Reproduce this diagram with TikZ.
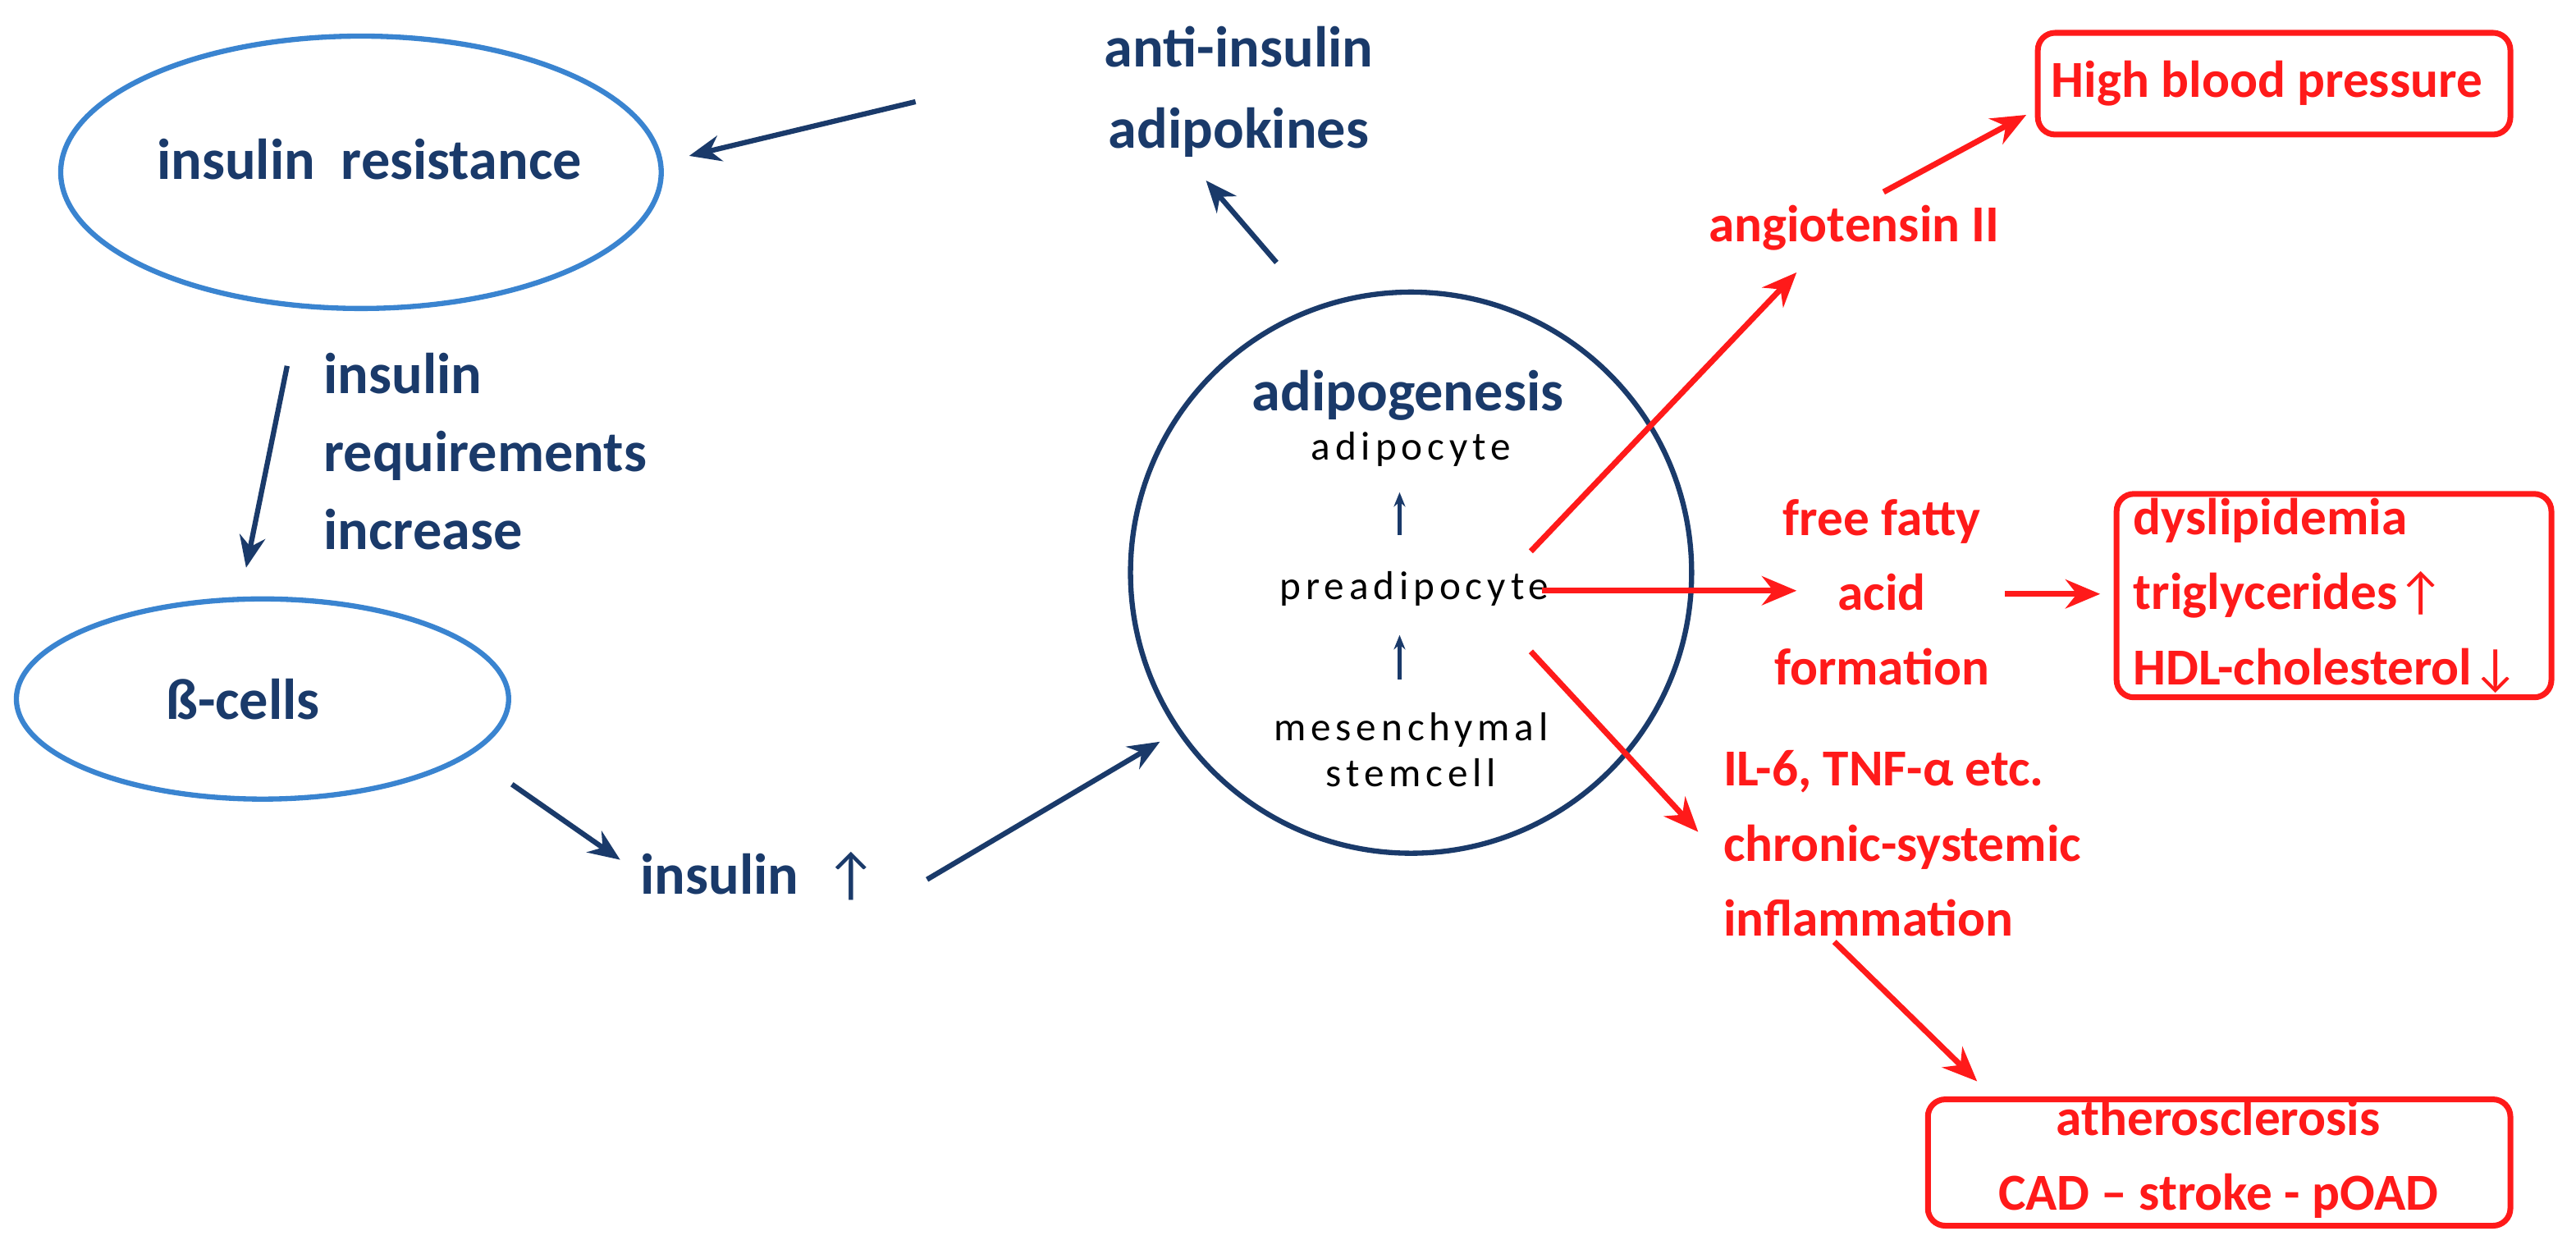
\documentclass[tikz,border=0pt]{standalone}
\usepackage{fontspec}
\setmainfont{Carlito}
\usetikzlibrary{arrows.meta}
\definecolor{navy}{HTML}{1A3A6A}
\definecolor{lblue}{HTML}{3A84D0}
\definecolor{rd}{HTML}{FF1A1A}
\begin{document}
\begin{tikzpicture}[x=0.02cm,y=-0.02cm,
  nv/.style={text=navy,font=\fontsize{20}{24}\selectfont\bfseries,inner sep=0pt},
  rt/.style={text=rd,font=\fontsize{18}{22}\selectfont\bfseries,inner sep=0pt},
  sm/.style={font=\fontsize{14}{16}\selectfont\addfontfeature{LetterSpace=12},inner sep=0pt},
  na/.style={draw=navy,line width=1.8pt,-{Stealth[length=11pt,width=9pt]}},
  ra/.style={draw=rd,line width=2pt,-{Stealth[length=12pt,width=10pt]}},
  rbox/.style={draw=rd,line width=2pt,rounded corners=6pt}]
\useasboundingbox (0,0) rectangle (1570,764);
\draw[lblue,line width=1.8pt] (220,105) ellipse [x radius=183,y radius=83];
\node[nv] (ir) at (225,97) {insulin\ \ resistance};
\draw[lblue,line width=1.8pt] (160,426) ellipse [x radius=150,y radius=61];
\node[nv] (bc) at (148,426) {ß-cells};
\draw[navy,line width=1.8pt] (860,349) circle [radius=171];
\node[nv] (adg) at (858,241) {adipogenesis};
\node[sm] (ac) at (860,274) {adipocyte};
\node[sm] (pa) at (862,359) {preadipocyte};
\node[sm,align=center] (ms) at (860,457) {mesenchymal\\stemcell};
\coordinate (u1a) at (853,326); \coordinate (u1b) at (853,300);
\coordinate (u2a) at (853,414); \coordinate (u2b) at (853,387);
\draw[navy,line width=1.3pt,-{Stealth[length=5pt,width=4pt]}] (u1a) -- (u1b);
\draw[navy,line width=1.3pt,-{Stealth[length=5pt,width=4pt]}] (u2a) -- (u2b);
\node[nv,align=center] (ai) at (755,56) {anti-insulin\\[4pt]adipokines};
\node[nv,align=left,anchor=west] (req) at (197,275) {insulin\\[3pt]requirements\\[3pt]increase};
\node[nv,anchor=west] (ins) at (390,534) {insulin \ \textmd{↑}};
\coordinate (a1s) at (558,62); \coordinate (a1e) at (420,95);
\coordinate (a2s) at (778,160); \coordinate (a2e) at (735,110);
\coordinate (a3s) at (175,223); \coordinate (a3e) at (150,346);
\coordinate (a4s) at (312,478); \coordinate (a4e) at (378,524);
\coordinate (a5s) at (565,536); \coordinate (a5e) at (707,452);
\draw[na] (a1s) -- (a1e);
\draw[na] (a2s) -- (a2e);
\draw[na] (a3s) -- (a3e);
\draw[na] (a4s) -- (a4e);
\draw[na] (a5s) -- (a5e);
\node[rt] (ang) at (1130,139) {angiotensin II};
\node[rt,align=center] (ffa) at (1147,361) {free fatty\\[4pt]acid\\[4pt]formation};
\node[rt,align=left,anchor=west] (il) at (1050,514) {IL-6, TNF-α etc.\\[4pt]chronic-systemic\\[4pt]inflammation};
\draw[rbox] (1242,20) rectangle (1530,82);
\node[rt,anchor=west] (hbp) at (1250,51) {High blood pressure};
\draw[rbox] (1290,301) rectangle (1555,425);
\node[rt,align=left,anchor=west] (dys) at (1300,363) {dyslipidemia\\[4pt]triglycerides\textmd{↑}\\[4pt]HDL-cholesterol\textmd{↓}};
\draw[rbox] (1175,670) rectangle (1530,747);
\node[rt,align=center] (ath) at (1352,706) {atherosclerosis\\[4pt]CAD – stroke - pOAD};
\coordinate (r1s) at (933,336); \coordinate (r1e) at (1095,166);
\coordinate (r2s) at (940,360); \coordinate (r2e) at (1095,360);
\coordinate (r3s) at (933,397); \coordinate (r3e) at (1035,507);
\coordinate (r4s) at (1148,117); \coordinate (r4e) at (1235,70);
\coordinate (r5s) at (1222,362); \coordinate (r5e) at (1280,362);
\coordinate (r6s) at (1118,574); \coordinate (r6e) at (1205,659);
\draw[ra] (r1s) -- (r1e);
\draw[ra] (r2s) -- (r2e);
\draw[ra] (r3s) -- (r3e);
\draw[ra] (r4s) -- (r4e);
\draw[ra] (r5s) -- (r5e);
\draw[ra] (r6s) -- (r6e);
\end{tikzpicture}
\end{document}
